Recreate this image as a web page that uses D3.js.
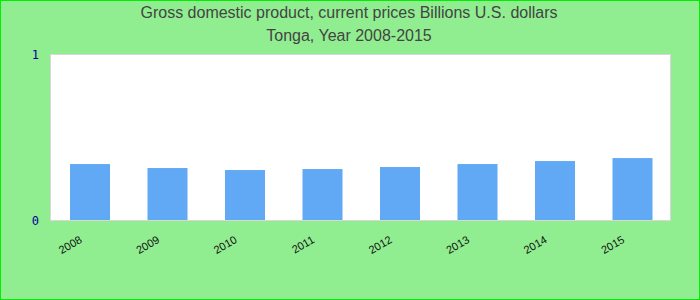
<!DOCTYPE html>
<html>
<head>
<meta charset="utf-8">
<script src="https://cdn.jsdelivr.net/npm/d3@7"></script>
<style>
  html, body { margin: 0; padding: 0; background: #fff; }
  svg { display: block; }
</style>
</head>
<body>
<script>
const years = ["2008", "2009", "2010", "2011", "2012", "2013", "2014", "2015"];
const gdpValues = [0.337, 0.313, 0.301, 0.307, 0.319, 0.337, 0.355, 0.373];
const yTicks = [0, 1];
const titleLines = ["Gross domestic product, current prices Billions U.S. dollars", "Tonga, Year 2008-2015"];

const W = 700, H = 300;
const plot = { left: 50, top: 54, right: 670, bottom: 220 };

const svg = d3.select("body").append("svg").attr("width", W).attr("height", H);

svg.append("rect").attr("x", 0.5).attr("y", 0.5).attr("width", W - 1).attr("height", H - 1)
  .attr("fill", "#90ee90").attr("stroke", "#00ee00").attr("stroke-width", 1);

svg.selectAll("text.title").data(titleLines).enter().append("text")
  .attr("class", "title")
  .attr("x", 349).attr("y", (d, i) => 18 + i * 23)
  .attr("text-anchor", "middle")
  .attr("font-family", "Liberation Sans, Arial, sans-serif")
  .attr("font-size", 16)
  .attr("fill", "#444")
  .text(d => d);

svg.append("rect").attr("x", plot.left + 0.5).attr("y", plot.top + 0.5)
  .attr("width", plot.right - plot.left).attr("height", plot.bottom - plot.top)
  .attr("fill", "#fff").attr("stroke", "#d8d8d8").attr("stroke-width", 1);

const x = d3.scaleBand().domain(years).range([plot.left, plot.right]).padding(0);
const y = d3.scaleLinear().domain([0, 1]).range([plot.bottom, plot.top]);
const barW = 40;

svg.selectAll("rect.bar").data(years).enter().append("rect")
  .attr("class", "bar")
  .attr("x", d => x(d) + 20)
  .attr("y", (d, i) => y(gdpValues[i]))
  .attr("width", barW)
  .attr("height", (d, i) => y(0) - y(gdpValues[i]))
  .attr("fill", "#61a8f5");

const yAxis = d3.axisLeft(y).tickValues(yTicks).tickSize(0).tickPadding(0).tickFormat(d3.format("d"));
const gy = svg.append("g").attr("transform", `translate(${plot.left - 11},0)`).call(yAxis);
gy.select(".domain").remove();
gy.selectAll("text").attr("font-family", "DejaVu Sans Mono, monospace").attr("font-size", 12)
  .attr("fill", "#0000a0").attr("dy", "0.35em");

const xAxis = d3.axisBottom(x).tickSize(0).tickPadding(0);
const gx = svg.append("g").attr("transform", `translate(0,${plot.bottom})`).call(xAxis);
gx.select(".domain").remove();
gx.selectAll(".tick text")
  .attr("font-family", "Liberation Sans, Arial, sans-serif")
  .attr("font-size", 11)
  .attr("fill", "#111")
  .attr("text-anchor", "end")
  .attr("dy", 0)
  .attr("y", 0)
  .attr("transform", "translate(-6,22) rotate(-30)");
</script>
</body>
</html>
